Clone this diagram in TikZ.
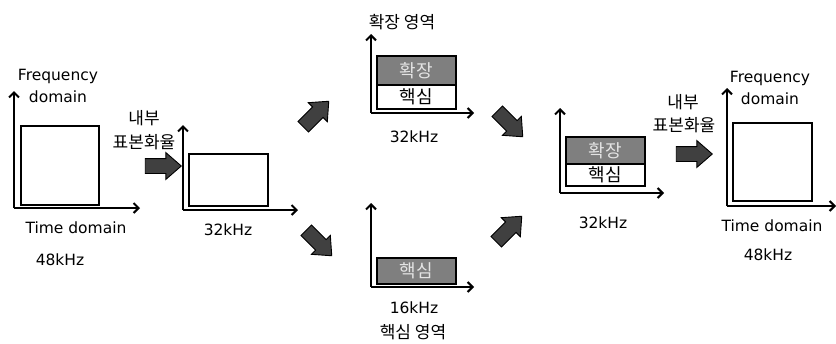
\documentclass[tikz,border=0pt]{standalone}
\usepackage{fontspec}
\setmainfont{DejaVu Sans}
\newfontfamily\kr{Noto Sans CJK KR}
\usetikzlibrary{shapes.arrows,arrows.meta}
\definecolor{boxgray}{HTML}{7F7F7F}
\definecolor{arrgray}{HTML}{404040}
\definecolor{lighttxt}{HTML}{E4E4E4}
\begin{document}
\begin{tikzpicture}[x=1pt,y=-1pt,
  lbl/.style={inner sep=0pt,font=\fontsize{15.5}{18}\selectfont},
  krl/.style={inner sep=0pt,font=\kr\fontsize{17}{18}\selectfont},
  axis/.style={line width=2.4pt,-{Straight Barb[length=5pt,width=10pt,line width=2pt]}},
  frame/.style={draw,line width=2.6pt,inner sep=0pt},
  graybox/.style={frame,fill=boxgray,text=lighttxt,font=\kr\fontsize{18}{18}\selectfont},
  whitebox/.style={frame,fill=white,font=\kr\fontsize{18}{18}\selectfont},
  bigarrow/.style={single arrow,draw=black,fill=arrgray,line width=0.9pt,
    minimum height=36pt,minimum width=26pt,inner xsep=0pt,inner ysep=7pt,
    single arrow head extend=6pt,single arrow tip angle=82,
    single arrow head indent=0pt}]
\useasboundingbox (0,0) rectangle (836,343);

% ---- stage 1: 48kHz input
\coordinate (o1) at (14,208);
\coordinate (y1) at (14,91);
\coordinate (x1) at (140,208);
\node[frame,minimum width=78pt,minimum height=79pt] (sq1) at (60,165.5) {};
\draw[axis] (o1) -- (y1);
\draw[axis] (o1) -- (x1);
\node[lbl] (f1) at (58,76) {Frequency};
\node[lbl] (d1) at (58,97) {domain};
\node[lbl] (t1) at (76,228) {Time domain};
\node[lbl] (k1) at (60,260) {48kHz};

% ---- resampling arrow 1
\node[bigarrow] (ba1) at (159,166) {};
\node[krl] (n1) at (144,118) {내부};
\node[krl] (p1) at (144,142) {표본화율};

% ---- stage 2: 32kHz
\coordinate (o2) at (183,210);
\coordinate (y2) at (183,125);
\coordinate (x2) at (298,210);
\node[frame,minimum width=79pt,minimum height=52pt] (r2) at (228.5,180) {};
\draw[axis] (o2) -- (y2);
\draw[axis] (o2) -- (x2);
\node[lbl] (k2) at (228,230) {32kHz};

% ---- split arrows
\node[bigarrow,rotate=45] (ba2) at (313,117) {};
\node[bigarrow,rotate=-45] (ba3) at (316,240) {};

% ---- stage 3 upper: extension region
\coordinate (o3) at (371,113);
\coordinate (y3) at (371,34);
\coordinate (x3) at (474,113);
\node[graybox,minimum width=79pt,minimum height=29pt] (e3) at (416.5,70.5) {확장};
\node[whitebox,minimum width=79pt,minimum height=24pt] (c3) at (416.5,97) {핵심};
\draw[axis] (o3) -- (y3);
\draw[axis] (o3) -- (x3);
\node[krl] (h3) at (402,22) {확장 영역};
\node[lbl] (k3) at (414,137) {32kHz};

% ---- stage 3 lower: core region
\coordinate (o4) at (371,287);
\coordinate (y4) at (371,203);
\coordinate (x4) at (474,287);
\node[graybox,minimum width=79pt,minimum height=26pt] (c4) at (416.5,271) {핵심};
\draw[axis] (o4) -- (y4);
\draw[axis] (o4) -- (x4);
\node[lbl] (k4) at (414,308) {16kHz};
\node[krl] (h4) at (413,332) {핵심 영역};

% ---- merge arrows
\node[bigarrow,rotate=-45] (ba4) at (507,121) {};
\node[bigarrow,rotate=45] (ba5) at (506,232) {};

% ---- stage 4: merged 32kHz
\coordinate (o5) at (560,193);
\coordinate (y5) at (560,108);
\coordinate (x5) at (664,193);
\node[graybox,minimum width=79pt,minimum height=27pt] (e5) at (605.5,150.5) {확장};
\node[whitebox,minimum width=79pt,minimum height=22pt] (c5) at (605.5,175) {핵심};
\draw[axis] (o5) -- (y5);
\draw[axis] (o5) -- (x5);
\node[lbl] (k5) at (603,223) {32kHz};

% ---- resampling arrow 2
\node[bigarrow] (ba6) at (690,154) {};
\node[krl] (n6) at (683,102) {내부};
\node[krl] (p6) at (684,125) {표본화율};

% ---- stage 5: 48kHz output
\coordinate (o6) at (727,206);
\coordinate (y6) at (727,88);
\coordinate (x6) at (836,206);
\node[frame,minimum width=79pt,minimum height=78pt] (sq6) at (772.5,162) {};
\draw[axis] (o6) -- (y6);
\draw[axis] (o6) -- (x6);
\node[lbl] (f6) at (770,78) {Frequency};
\node[lbl] (d6) at (770,99) {domain};
\node[lbl] (t6) at (772,226) {Time domain};
\node[lbl] (k6) at (768,255) {48kHz};
\end{tikzpicture}
\end{document}
